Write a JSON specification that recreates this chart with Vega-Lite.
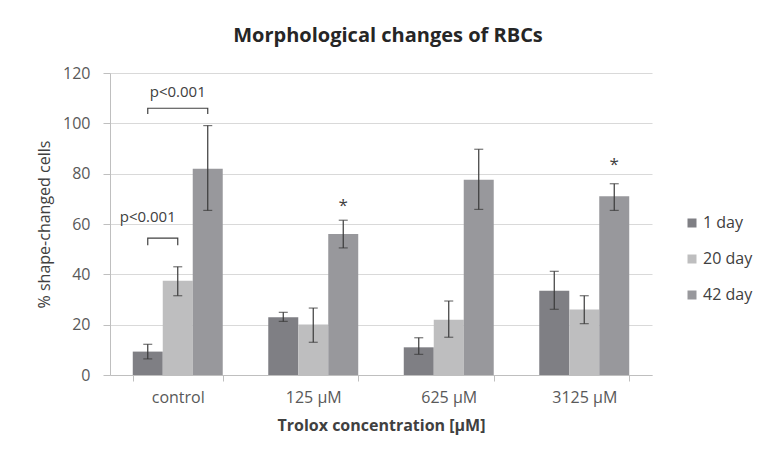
{
  "$schema": "https://vega.github.io/schema/vega-lite/v6.json",
  "width": 542,
  "height": 302,
  "autosize": {"type": "none"},
  "padding": {"left": 110, "top": 73, "right": 122, "bottom": 89},
  "background": "white",
  "title": {
    "text": "Morphological changes of RBCs",
    "font": "Open Sans",
    "fontSize": 20,
    "fontWeight": "bold",
    "color": "#262626",
    "anchor": "middle",
    "frame": "group",
    "baseline": "alphabetic",
    "offset": 3,
    "dx": 7
  },
  "config": {
    "font": "Open Sans",
    "view": {"stroke": null},
    "axis": {
      "labelFont": "Open Sans",
      "titleFont": "Open Sans",
      "labelColor": "#595959",
      "titleColor": "#404040",
      "domainColor": "#bfbfbf",
      "tickColor": "#bfbfbf",
      "gridColor": "#d9d9d9",
      "labelFontSize": 16,
      "titleFontSize": 16
    }
  },
  "datasets": {
    "bars": [
      {"conc": "control", "series": "1 day", "value": 9.3, "lo": 6.4, "hi": 12.2},
      {"conc": "control", "series": "20 day", "value": 37.5, "lo": 31.5, "hi": 43.0},
      {"conc": "control", "series": "42 day", "value": 82.0, "lo": 65.4, "hi": 99.1},
      {"conc": "125 µM", "series": "1 day", "value": 22.9, "lo": 21.3, "hi": 24.9},
      {"conc": "125 µM", "series": "20 day", "value": 20.1, "lo": 13.0, "hi": 26.6},
      {"conc": "125 µM", "series": "42 day", "value": 56.0, "lo": 50.5, "hi": 61.5},
      {"conc": "625 µM", "series": "1 day", "value": 11.0, "lo": 8.2, "hi": 14.8},
      {"conc": "625 µM", "series": "20 day", "value": 22.0, "lo": 15.0, "hi": 29.4},
      {"conc": "625 µM", "series": "42 day", "value": 77.6, "lo": 65.8, "hi": 89.7},
      {"conc": "3125 µM", "series": "1 day", "value": 33.5, "lo": 26.1, "hi": 41.2},
      {"conc": "3125 µM", "series": "20 day", "value": 26.0, "lo": 20.4, "hi": 31.5},
      {"conc": "3125 µM", "series": "42 day", "value": 71.0, "lo": 65.4, "hi": 76.0}
    ],
    "brackets": [
      {"bracket": "A", "ord": 1, "conc": "control", "series": "1 day", "y": 103.7},
      {"bracket": "A", "ord": 2, "conc": "control", "series": "1 day", "y": 106.0},
      {"bracket": "A", "ord": 3, "conc": "control", "series": "42 day", "y": 106.0},
      {"bracket": "A", "ord": 4, "conc": "control", "series": "42 day", "y": 103.7},
      {"bracket": "B", "ord": 1, "conc": "control", "series": "1 day", "y": 51.6},
      {"bracket": "B", "ord": 2, "conc": "control", "series": "1 day", "y": 54.4},
      {"bracket": "B", "ord": 3, "conc": "control", "series": "20 day", "y": 54.4},
      {"bracket": "B", "ord": 4, "conc": "control", "series": "20 day", "y": 51.6}
    ],
    "labels": [
      {"conc": "control", "series": "20 day", "y": 112.6, "label": "p<0.001"},
      {"conc": "control", "series": "1 day", "y": 62.8, "label": "p<0.001"}
    ],
    "stars": [
      {"conc": "125 µM", "series": "42 day", "y": 68.9, "label": "*"},
      {"conc": "3125 µM", "series": "42 day", "y": 85.0, "label": "*"}
    ]
  },
  "encoding": {
    "x": {
      "field": "conc",
      "type": "nominal",
      "sort": ["control", "125 µM", "625 µM", "3125 µM"],
      "scale": {"domain": ["control", "125 µM", "625 µM", "3125 µM"], "paddingInner": 0.336, "paddingOuter": 0.168},
      "axis": {
        "title": "Trolox concentration [µM]",
        "titleFontWeight": "bold",
        "titlePadding": 12,
        "labelAngle": 0,
        "labelPadding": 8,
        "tickBand": "extent",
        "tickSize": 6
      }
    },
    "xOffset": {
      "field": "series",
      "type": "nominal",
      "scale": {"domain": ["1 day", "20 day", "42 day"], "paddingInner": 0, "paddingOuter": 0}
    }
  },
  "layer": [
    {
      "data": {"name": "bars"},
      "mark": {"type": "bar"},
      "encoding": {
        "y": {
          "field": "value",
          "type": "quantitative",
          "scale": {"domain": [0, 120], "nice": false},
          "axis": {
            "title": "% shape-changed cells",
            "titleFontWeight": "normal",
            "values": [0, 20, 40, 60, 80, 100, 120],
            "tickSize": 7,
            "labelPadding": 13,
            "titlePadding": 10,
            "grid": true
          }
        },
        "color": {
          "field": "series",
          "type": "nominal",
          "scale": {"domain": ["1 day", "20 day", "42 day"], "range": ["#7f7f84", "#bebebf", "#98989c"]},
          "legend": {
            "title": null,
            "orient": "none",
            "legendX": 574,
            "legendY": 142,
            "symbolType": "square",
            "symbolSize": 81,
            "symbolStrokeWidth": 0,
            "labelFont": "Open Sans",
            "labelFontSize": 16,
            "labelColor": "#404040",
            "labelOffset": 3,
            "rowPadding": 20,
            "padding": 0
          }
        }
      }
    },
    {
      "data": {"name": "bars"},
      "mark": {"type": "rule", "color": "#3a3a3a", "strokeWidth": 1.2},
      "encoding": {
        "y": {"field": "lo", "type": "quantitative"},
        "y2": {"field": "hi"}
      }
    },
    {
      "data": {"name": "bars"},
      "mark": {"type": "tick", "color": "#3a3a3a", "size": 9, "thickness": 1.2},
      "encoding": {"y": {"field": "hi", "type": "quantitative"}}
    },
    {
      "data": {"name": "bars"},
      "mark": {"type": "tick", "color": "#3a3a3a", "size": 9, "thickness": 1.2},
      "encoding": {"y": {"field": "lo", "type": "quantitative"}}
    },
    {
      "data": {"name": "brackets"},
      "mark": {"type": "line", "color": "#404040", "strokeWidth": 1.2},
      "encoding": {
        "y": {"field": "y", "type": "quantitative"},
        "detail": {"field": "bracket"},
        "order": {"field": "ord", "type": "quantitative"}
      }
    },
    {
      "data": {"name": "labels"},
      "mark": {"type": "text", "font": "Open Sans", "fontSize": 15, "color": "#404040", "baseline": "middle", "align": "center"},
      "encoding": {
        "y": {"field": "y", "type": "quantitative"},
        "text": {"field": "label"}
      }
    },
    {
      "data": {"name": "stars"},
      "mark": {"type": "text", "font": "Open Sans", "fontSize": 17, "color": "#404040", "baseline": "middle", "align": "center", "dy": 4},
      "encoding": {
        "y": {"field": "y", "type": "quantitative"},
        "text": {"field": "label"}
      }
    }
  ]
}
